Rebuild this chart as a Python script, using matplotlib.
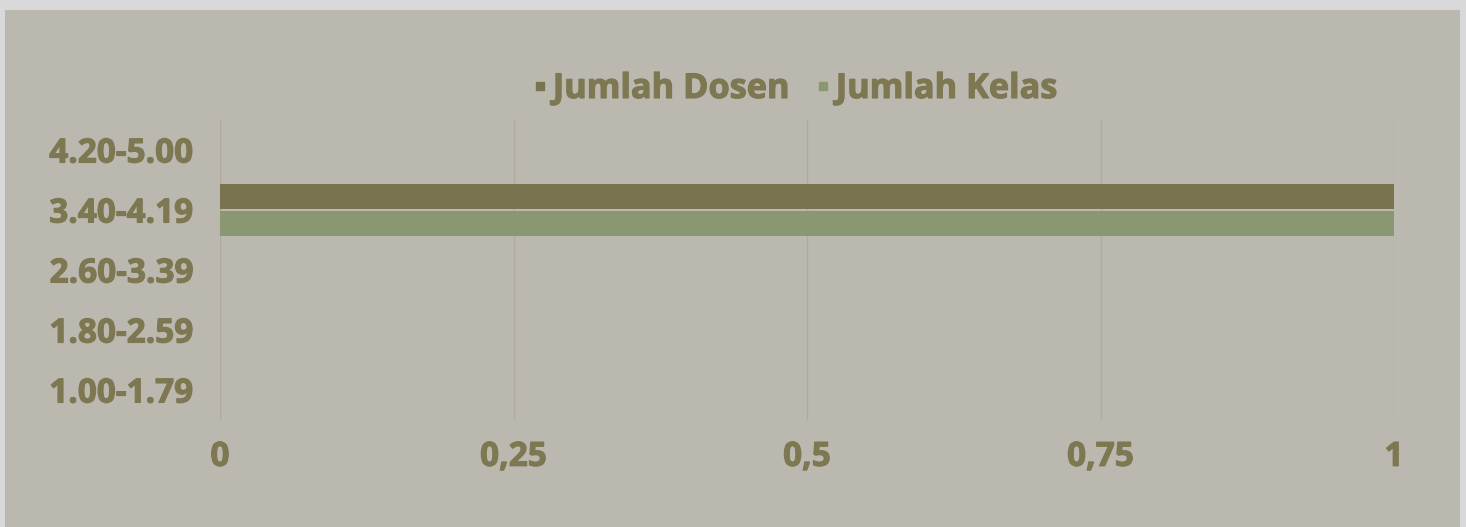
import matplotlib.pyplot as plt
import numpy as np
from matplotlib.patches import Rectangle
from matplotlib.lines import Line2D
import matplotlib.patheffects as pe

plt.rcParams['font.family'] = ['Open Sans', 'DejaVu Sans']
plt.rcParams['font.weight'] = 'bold'

# score ranges, bottom to top
categories = ["1.00-1.79", "1.80-2.59", "2.60-3.39", "3.40-4.19", "4.20-5.00"]
jumlah_dosen = [0, 0, 0, 1, 0]
jumlah_kelas = [0, 0, 0, 1, 0]
x_ticks = [0, 0.25, 0.5, 0.75, 1]
x_labels = ["0", "0,25", "0,5", "0,75", "1"]

bg = "#bbb8b0"
text_col = "#7d7752"
grid_col = "#aeab9c"
c_dosen = "#7a7350"
c_kelas = "#8a9872"

W, H = 1466, 527
fig = plt.figure(figsize=(W / 100, H / 100), dpi=100)
fig.patch.set_facecolor("#d9d9d9")
fig.patches.append(Rectangle((5 / W, 0), 1455 / W, 517 / H, transform=fig.transFigure,
                             facecolor=bg, edgecolor="none", zorder=-5))

ax = fig.add_axes([220 / W, 1 - 420 / H, 1174 / W, 300 / H])
ax.set_facecolor("none")

y = np.arange(len(categories))
h = 0.43
off = 0.226
ax.barh(y + off, jumlah_dosen, height=h, color=c_dosen, linewidth=0, zorder=3)
ax.barh(y - off, jumlah_kelas, height=h, color=c_kelas, linewidth=0, zorder=3)

ax.set_xlim(0, 1)
ax.set_ylim(-0.5, 4.5)
ax.set_xticks(x_ticks)
ax.set_xticklabels(x_labels)
ax.set_yticks(y)
ax.set_yticklabels(categories)
ax.tick_params(length=0, labelsize=24, labelcolor=text_col)
ax.tick_params(axis="x", pad=15)
ax.tick_params(axis="y", pad=19)
for s in ax.spines.values():
    s.set_visible(False)
ax.grid(axis="x", color=grid_col, linewidth=1, zorder=1)
ax.axvline(0, color=grid_col, linewidth=1.2, zorder=1)

# heavier strokes on the labels
thick = [pe.withStroke(linewidth=0.8, foreground=text_col)]
for t in ax.get_xticklabels() + ax.get_yticklabels():
    t.set_path_effects(thick)

handles = [Line2D([], [], marker="s", linestyle="none", markersize=6, color=c_dosen),
           Line2D([], [], marker="s", linestyle="none", markersize=6, color=c_kelas)]
leg = fig.legend(handles, ["Jumlah Dosen", "Jumlah Kelas"], loc="center", bbox_to_anchor=(795 / W, 1 - 89 / H),
                 ncol=2, frameon=False, fontsize=24.7, labelcolor=text_col, handletextpad=0.17,
                 columnspacing=0.8, handlelength=0.4)
for t in leg.get_texts():
    t.set_path_effects(thick)

fig.savefig("out.png", dpi=100, facecolor=fig.get_facecolor())
